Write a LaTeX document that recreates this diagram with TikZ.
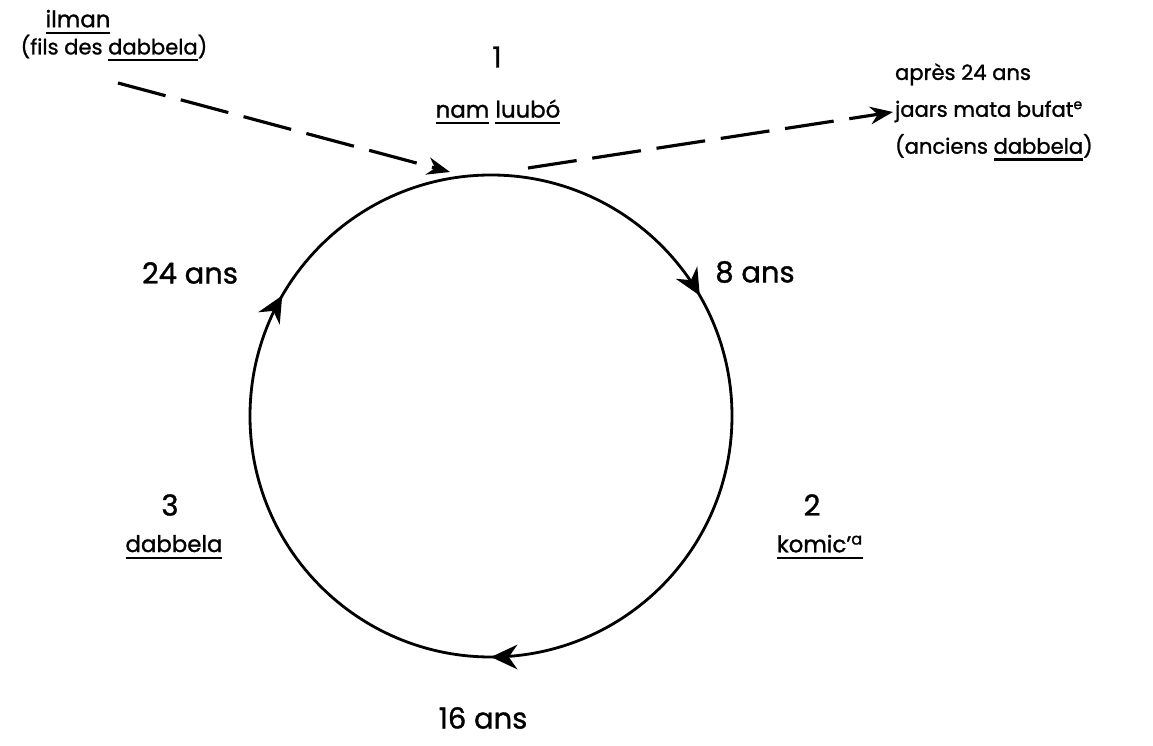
\documentclass[tikz,border=0pt]{standalone}
\usepackage{fontspec}
\setmainfont{Poppins}[FakeBold=1.2]
\usetikzlibrary{arrows.meta,decorations.markings}

% thick underline, as in the hand-lettered original
\newcommand{\ulbar}[1]{\leavevmode\vtop{\hbox{#1}\kern2.5pt\hrule height 1.3pt}}

\begin{document}
\begin{tikzpicture}[x=0.02cm, y=-0.02cm,
    big/.style={font=\fontsize{16.5}{19}\selectfont, inner sep=1pt},
    mid/.style={font=\fontsize{13}{16}\selectfont, inner sep=1pt},
    small/.style={font=\fontsize{12}{21}\selectfont, inner sep=1pt},
    dasharrow/.style={line width=1.8pt, dash pattern=on 28pt off 9pt,
      -{Stealth[length=13pt, width=10pt]}},
    cyclearrow/.style={decoration={markings,
      mark=at position 0.25 with {\arrow{Stealth[length=15pt, width=14pt]}},
      mark=at position 0.5833 with {\arrow{Stealth[length=15pt, width=14pt]}},
      mark=at position 0.9167 with {\arrow{Stealth[length=15pt, width=14pt]}}},
      postaction={decorate}}]
  \useasboundingbox (0,0) rectangle (1153,746);
  % The cycle of grades.
  \coordinate (c) at (491,416);
  \draw[line width=1.6pt, cyclearrow] (c) circle [radius=241];
  \coordinate (topin) at (450,172);
  \coordinate (topout) at (528,168);
  % Grade labels.
  \node[big] (one) at (497,57) {1};
  \node[mid] (luubo) at (498,112) {\ulbar{nam} \ulbar{luubó}};
  \node[big] (two) at (812,505) {2};
  \node[mid] (komic) at (820,547) {\ulbar{komic'\textsuperscript{a}}};
  \node[big] (three) at (170,505) {3};
  \node[mid] (dabbela) at (174,547) {\ulbar{dabbela}};
  % Ages.
  \node[big] (ans8) at (755,272) {8 ans};
  \node[big] (ans16) at (483,718) {16 ans};
  \node[big] (ans24) at (190,273) {24 ans};
  % Entering and leaving.
  \node[mid] (ilman) at (78,22) {\ulbar{ilman}};
  \node[small] (fils) at (114,48) {(fils des \ulbar{dabbela})};
  \node[small, align=left, anchor=west] (apres) at (893,112)
    {après 24 ans\\ jaars mata bufat\textsuperscript{e}\\ (anciens \ulbar{dabbela})};
  \coordinate (filsend) at (118,83);
  \draw[dasharrow] (filsend) -- (topin);
  \draw[dasharrow] (topout) -- (apres.west);
\end{tikzpicture}
\end{document}
